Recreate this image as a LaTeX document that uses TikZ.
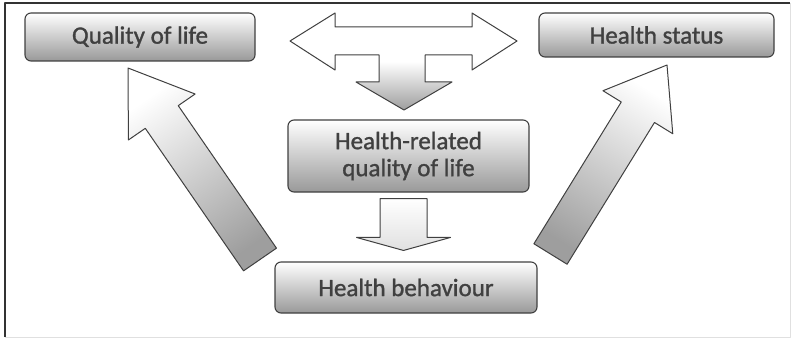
\documentclass[tikz,border=0pt]{standalone}
\usepackage{fontspec}
\setmainfont{Carlito}
\newfontfamily\boxfont[FakeBold=1.2]{Carlito}
\usetikzlibrary{positioning, calc}
\colorlet{boxline}{black!75}
\colorlet{boxtext}{black!75}
\colorlet{boxshade}{black!40}

% fat arrow: style, from, to, half shaft, half head, head length
\newcommand{\fatarrow}[6]{%
  \coordinate (fa-h) at ($(#3)!#6!(#2)$);
  \path[#1] ($(#2)!#4!90:(#3)$) -- ($(fa-h)!#4!-90:(#2)$) -- ($(fa-h)!#5!-90:(#2)$)
    -- (#3) -- ($(fa-h)!#5!90:(#2)$) -- ($(fa-h)!#4!90:(#2)$) -- ($(#2)!#4!-90:(#3)$) -- cycle;
}

\begin{document}
\begin{tikzpicture}[x=1pt,y=-1pt,line join=round]
  \tikzstyle{block}=[rectangle,rounded corners=6pt,draw=boxline,line width=1.1pt,top color=white,middle color=white,bottom color=boxshade,text=boxtext,font=\boxfont\fontsize{25}{27}\selectfont,align=center,inner sep=0pt]
  \tikzstyle{fat}=[draw=boxline,line width=1pt,top color=white,bottom color=black!38]

  \useasboundingbox (0,0) rectangle (792,342);
  \draw[black!80,line width=1.2pt] (5,337) -- (5,3) -- (790,3);
  \draw[black!12] (790,3) -- (790,337) -- (5,337);

  \node[block,minimum width=230pt,minimum height=48pt] (qol) at (140,37) {Quality of life};
  \node[block,minimum width=235pt,minimum height=44pt] (hs) at (656.5,35) {Health status};
  \node[block,minimum width=241pt,minimum height=72pt] (hrqol) at (408.5,156) {Health-related\\quality of life};
  \node[block,minimum width=262pt,minimum height=51pt] (hb) at (406,287.5) {Health behaviour};

  % arrow ends
  \coordinate (l0) at (260,259.5);
  \coordinate (l1) at (128,68);
  \coordinate (r0) at (550.5,254);
  \coordinate (r1) at (667,65);
  \coordinate (d0) at ($(hrqol.south)+(-5,6)$);
  \coordinate (d1) at ($(hb.north)+(-2.5,-11)$);

  \path[fat,middle color=white] (290,41) -- (335,13) -- (335,27) -- (472,27) -- (472,13)
    -- (517,41) -- (472,70) -- (472,55) -- (425,55) -- (425,82) -- (452,82) -- (404,110)
    -- (356,82) -- (379,82) -- (379,55) -- (335,55) -- (335,70) -- cycle;

  \fatarrow{fat,shading angle=35}{l0}{l1}{20pt}{40.5pt}{59.5pt}
  \fatarrow{fat,shading angle=-32}{r0}{r1}{19.5pt}{41pt}{55.5pt}
  \fatarrow{fat,bottom color=black!12}{d0}{d1}{23.5pt}{47pt}{13pt}
\end{tikzpicture}
\end{document}
